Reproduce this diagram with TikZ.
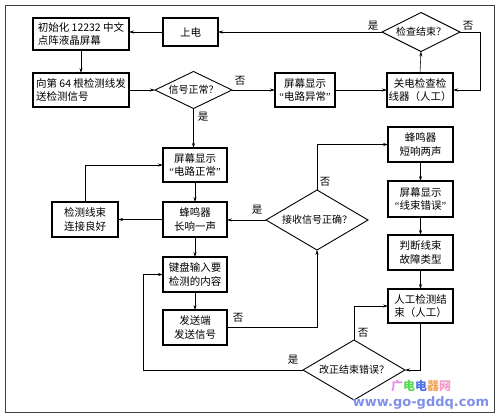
\documentclass[tikz,border=0pt]{standalone}
\usepackage{fontspec}
\setmainfont{Liberation Serif}
\newfontfamily\cjk{Noto Sans CJK SC}
\newfontfamily\wmfont{DejaVu Sans}
\usetikzlibrary{shapes.geometric,arrows.meta}
\definecolor{wmpink}{HTML}{EE88EE}
\definecolor{wmgreen}{HTML}{55DD55}
\definecolor{wmblue}{HTML}{4F6FEE}
\definecolor{wmorange}{HTML}{F2A45C}
\definecolor{wmrose}{HTML}{F29ACB}
\definecolor{wmlav}{HTML}{8090E8}
\newcommand{\oq}{{\rmfamily “}}
\newcommand{\cq}{{\rmfamily ”}}
\tikzset{
  box/.style={draw, line width=1.1pt, rectangle, inner sep=0pt, outer sep=0pt,
    align=center, font=\cjk\fontsize{10.5}{13.5}\selectfont},
  lbox/.style={box, align=left},
  dia/.style={draw, line width=0.9pt, diamond, inner sep=0pt, outer sep=0pt,
    font=\cjk\fontsize{10}{12}\selectfont},
  conn/.style={line width=0.55pt, -{Stealth[length=5pt,width=3pt]}},
  lbl/.style={font=\cjk\fontsize{10.5}{12}\selectfont, inner sep=0pt}
}
\begin{document}
\begin{tikzpicture}[x=1pt,y=-1pt]
\useasboundingbox (0,0) rectangle (498,416);
\draw[line width=0.6pt, black!75] (5,5) rectangle (494,412);

% nodes
\node[lbox, minimum width=96pt, minimum height=32pt] (init) at (81,34) {初始化 12232 中文\\点阵液晶屏幕};
\node[box, minimum width=55pt, minimum height=28pt] (power) at (190.5,32) {上电};
\node[lbox, minimum width=96pt, minimum height=34pt] (step) at (81,90) {向第 64 根检测线发\\送检测信号};
\node[dia, minimum width=77pt, minimum height=37pt, aspect=2.08] (sigok) at (193.5,90) {信号正常？};
\node[box, minimum width=60pt, minimum height=34pt] (abn) at (305,90) {屏幕显示\\\oq 电路异常\cq};
\node[box, minimum width=66pt, minimum height=34pt] (off) at (420,90) {关电检查检\\线器（人工）};
\node[dia, minimum width=78pt, minimum height=39pt, aspect=2] (done) at (421,32) {检查结束？};
\node[box, minimum width=64pt, minimum height=34pt] (norm) at (195,165) {屏幕显示\\\oq 电路正常\cq};
\node[box, minimum width=64pt, minimum height=35pt] (long) at (195,219.5) {蜂鸣器\\长响一声};
\node[box, minimum width=66pt, minimum height=35pt] (good) at (85,219.5) {检测线束\\连接良好};
\node[box, minimum width=64pt, minimum height=35pt] (key) at (195,274.5) {键盘输入要\\检测的内容};
\node[box, minimum width=64pt, minimum height=35pt] (send) at (195,327.5) {发送端\\发送信号};
\node[dia, minimum width=102pt, minimum height=60pt, aspect=1.7] (recv) at (317,220) {接收信号正确？};
\node[box, minimum width=65pt, minimum height=35pt] (short) at (420.5,144.5) {蜂鸣器\\短响两声};
\node[box, minimum width=65pt, minimum height=36pt] (err) at (420.5,199) {屏幕显示\\\oq 线束错误\cq};
\node[box, minimum width=65pt, minimum height=35pt] (judge) at (420.5,252.5) {判断线束\\故障类型};
\node[box, minimum width=65pt, minimum height=34pt] (manual) at (420.5,306) {人工检测结\\束（人工）};
\node[dia, minimum width=102pt, minimum height=60pt, aspect=1.7] (fix) at (354,370) {改正结束错误？};

% connectors
\draw[conn] (power.west) -- (power.west -| init.east);
\draw[conn] (done.west) -- (done.west -| power.east);
\coordinate (c1) at (480,32);
\coordinate (c2) at (480,90);
\draw[conn] (done.east) -- (c1) -- (c2) -- (off.east);
\draw[conn] (off.north) -- (done.south);
\draw[conn] (init.south) -- (step.north);
\draw[conn] (step.east) -- (sigok.west);
\draw[conn] (sigok.east) -- (abn.west);
\draw[conn] (abn.east) -- (off.west);
\draw[conn] (sigok.south) -- (sigok.south |- norm.north);
\draw[conn] (norm.south) -- (long.north);
\draw[conn] (long.south) -- (key.north);
\draw[conn] (key.south) -- (send.north);
\draw[conn] (long.west) -- (good.east);
\coordinate (c3) at (85,165);
\draw[conn] (good.north) -- (c3) -- (norm.west);
\draw[conn] (recv.west) -- (recv.west -| long.east);
\coordinate (c4) at (317,144.5);
\draw[conn] (recv.north) -- (c4) -- (short.west);
\coordinate (c5) at (317,327.5);
\draw[conn] (send.east) -- (c5) -- (recv.south);
\draw[conn] (short.south) -- (err.north);
\draw[conn] (err.south) -- (judge.north);
\draw[conn] (judge.south) -- (manual.north);
\coordinate (c6) at (420.5,370);
\draw[conn] (manual.south) -- (c6) -- (fix.east);
\coordinate (c7) at (354,306);
\draw[conn] (fix.north) -- (c7) -- (manual.west);
\coordinate (c8) at (143,370);
\coordinate (c9) at (143,274.5);
\draw[conn] (fix.west) -- (c8) -- (c9) -- (key.west);

% labels
\node[lbl] (l1) at (373,26) {是};
\node[lbl] (l2) at (468,26) {否};
\node[lbl] (l3) at (240,81) {否};
\node[lbl] (l4) at (203,117) {是};
\node[lbl] (l5) at (257,210) {是};
\node[lbl] (l6) at (325,182) {否};
\node[lbl] (l7) at (238,318) {否};
\node[lbl] (l8) at (363,333) {否};
\node[lbl] (l9) at (293,360) {是};

% watermark
\node[inner sep=0pt, font=\cjk\bfseries\fontsize{12}{12}\selectfont] (wm1) at (421,386)
  {\textcolor{wmpink}{广}\textcolor{wmgreen}{电}\textcolor{wmblue}{电}\textcolor{wmorange}{器}\textcolor{wmrose}{网}};
\node[inner sep=0pt, font=\wmfont\bfseries\fontsize{13}{13}\selectfont, text=wmlav] (wm2) at (421,403) {www.go-gddq.com};
\end{tikzpicture}
\end{document}
